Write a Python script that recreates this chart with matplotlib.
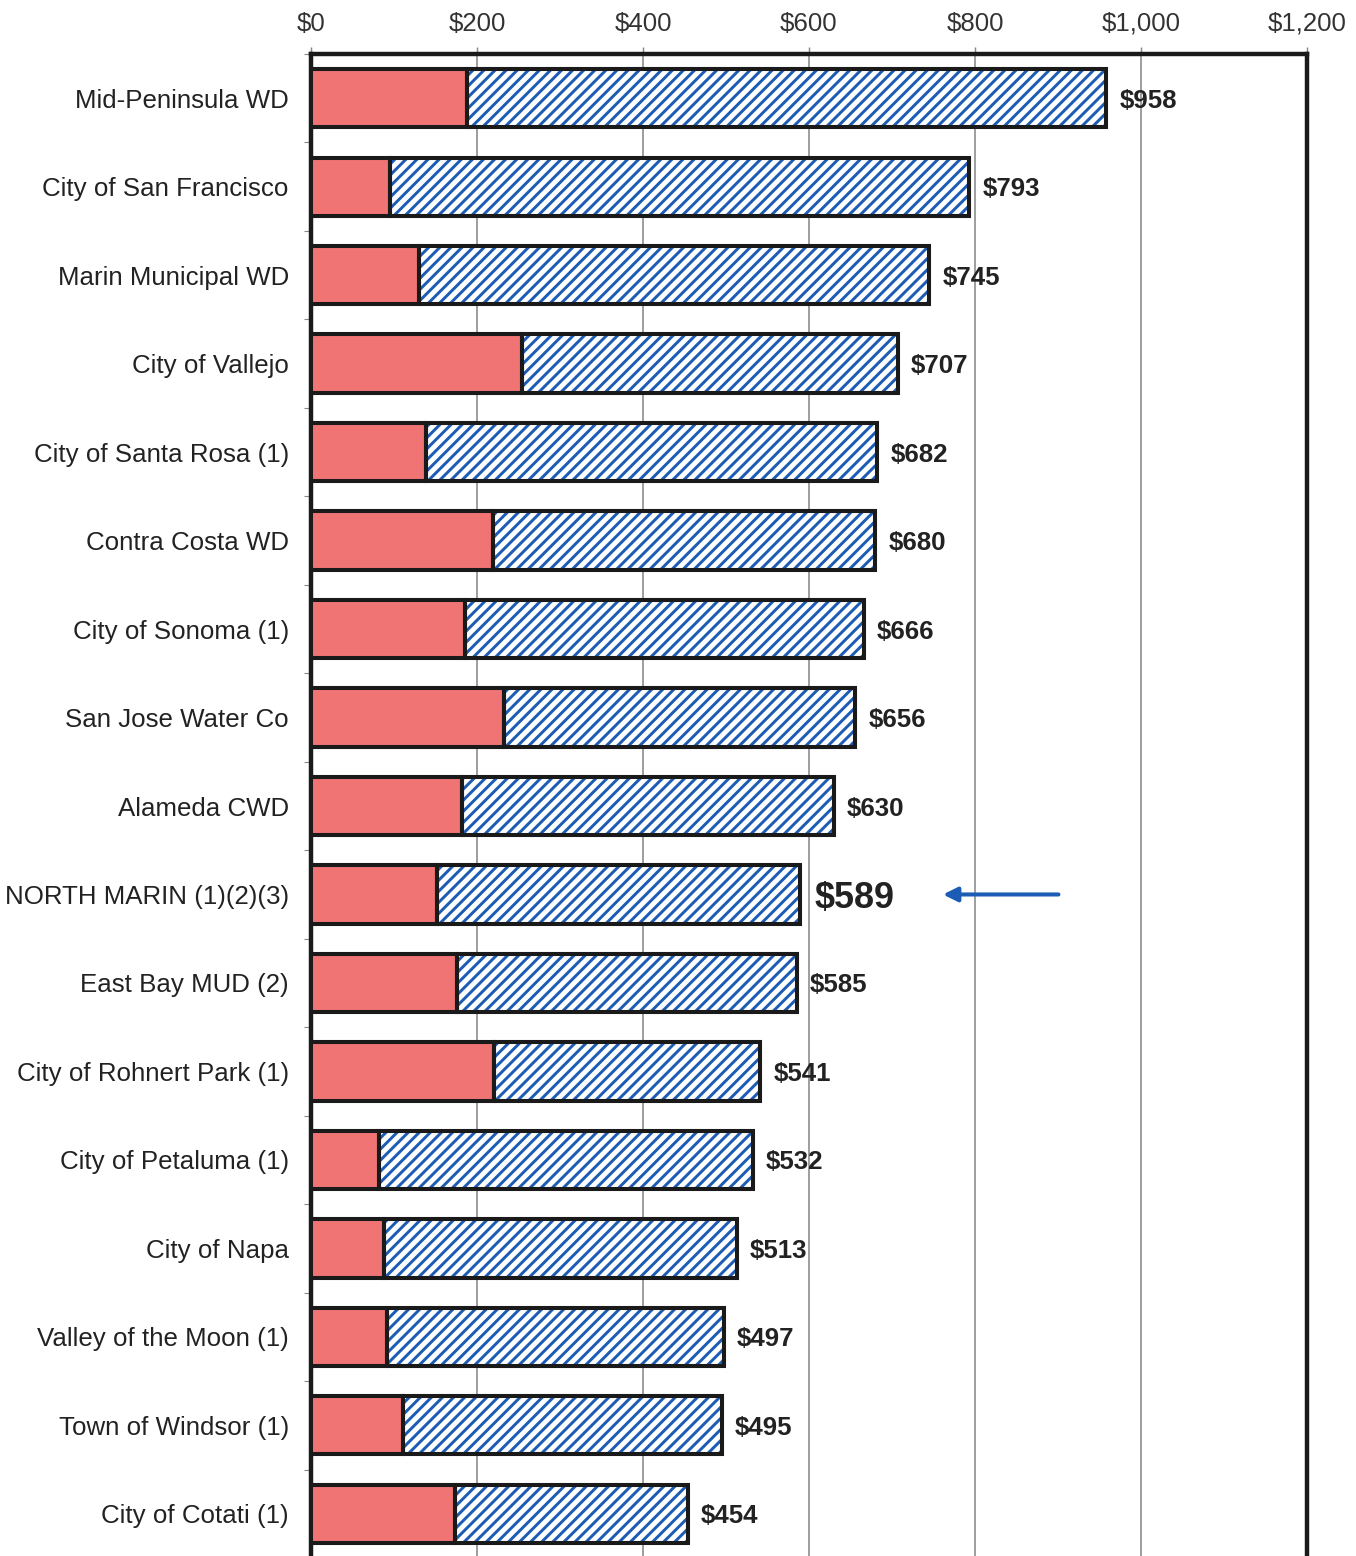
import matplotlib.pyplot as plt
import numpy as np

# Data
names = ['Mid-Peninsula WD', 'City of San Francisco', 'Marin Municipal WD',
         'City of Vallejo', 'City of Santa Rosa (1)', 'Contra Costa WD',
         'City of Sonoma (1)', 'San Jose Water Co', 'Alameda CWD',
         'NORTH MARIN (1)(2)(3)', 'East Bay MUD (2)', 'City of Rohnert Park (1)',
         'City of Petaluma (1)', 'City of Napa', 'Valley of the Moon (1)',
         'Town of Windsor (1)', 'City of Cotati (1)']
fixed = [188, 95, 130, 254, 139, 219, 186, 232, 182, 152, 176, 221, 82, 88, 91, 111, 174]
total = [958, 793, 745, 707, 682, 680, 666, 656, 630, 589, 585, 541, 532, 513, 497, 495, 454]
xticks = [0, 200, 400, 600, 800, 1000, 1200]
xticklabels = ['$0', '$200', '$400', '$600', '$800', '$1,000', '$1,200']
highlight = 'NORTH MARIN (1)(2)(3)'

red = '#f07474'
blue = '#1d5cb4'

DPI = 133
plt.rcParams['font.family'] = ['Liberation Sans', 'DejaVu Sans']
plt.rcParams['hatch.linewidth'] = 1.6
plt.rcParams['hatch.color'] = blue

fig = plt.figure(figsize=(1356 / DPI, 1556 / DPI), dpi=DPI)
ax = fig.add_axes([311 / 1356, -2 / 1556, (1307 - 311) / 1356, (1556 - 54 + 2) / 1556])

y = np.arange(len(names))
fixed = np.array(fixed)
total = np.array(total)
var = total - fixed

ax.barh(y, fixed, height=0.66, color=red, edgecolor='none', zorder=3)
ax.barh(y, var, left=fixed, height=0.66, color='white', edgecolor=blue,
        hatch='////', linewidth=0, zorder=3)
# black outlines
ax.barh(y, fixed, height=0.66, fill=False, edgecolor='#1a1a1a', linewidth=2.2, zorder=4)
ax.barh(y, var, left=fixed, height=0.66, fill=False, edgecolor='#1a1a1a', linewidth=2.2, zorder=4)

for yi, n, t in zip(y, names, total):
    if n == highlight:
        ax.text(t + 18, yi, f'${t}', va='center_baseline', ha='left', fontsize=19.5,
                fontweight='bold', color='#222222')
    else:
        ax.text(t + 16, yi, f'${t}', va='center_baseline', ha='left', fontsize=14,
                fontweight='bold', color='#222222')

# arrow pointing at North Marin
hi = names.index(highlight)
ax.annotate('', xy=(757, hi), xytext=(905, hi),
            arrowprops=dict(arrowstyle='-|>', color=blue, lw=2.2, mutation_scale=16))

ax.set_xlim(0, 1200)
ax.set_ylim(len(names) - 0.5, -0.5)
ax.set_xticks(xticks)
ax.set_xticklabels(xticklabels, fontsize=14, color='#333333')
ax.xaxis.tick_top()
ax.tick_params(axis='x', length=4, color='#888888', pad=6)
ax.set_yticks(y)
ax.set_yticklabels(names, fontsize=14, color='#222222')
ax.tick_params(axis='y', length=0, pad=12)
ax.set_yticks(np.arange(len(names) + 1) - 0.5, minor=True)
ax.tick_params(axis='y', which='minor', length=4, color='#888888')
ax.grid(axis='x', color='#999999', linewidth=1.0, zorder=0)

for s in ['left', 'top', 'right']:
    ax.spines[s].set_linewidth(2.4)
    ax.spines[s].set_color('#1a1a1a')
ax.spines['bottom'].set_visible(False)

fig.savefig('out.png', dpi=DPI)
